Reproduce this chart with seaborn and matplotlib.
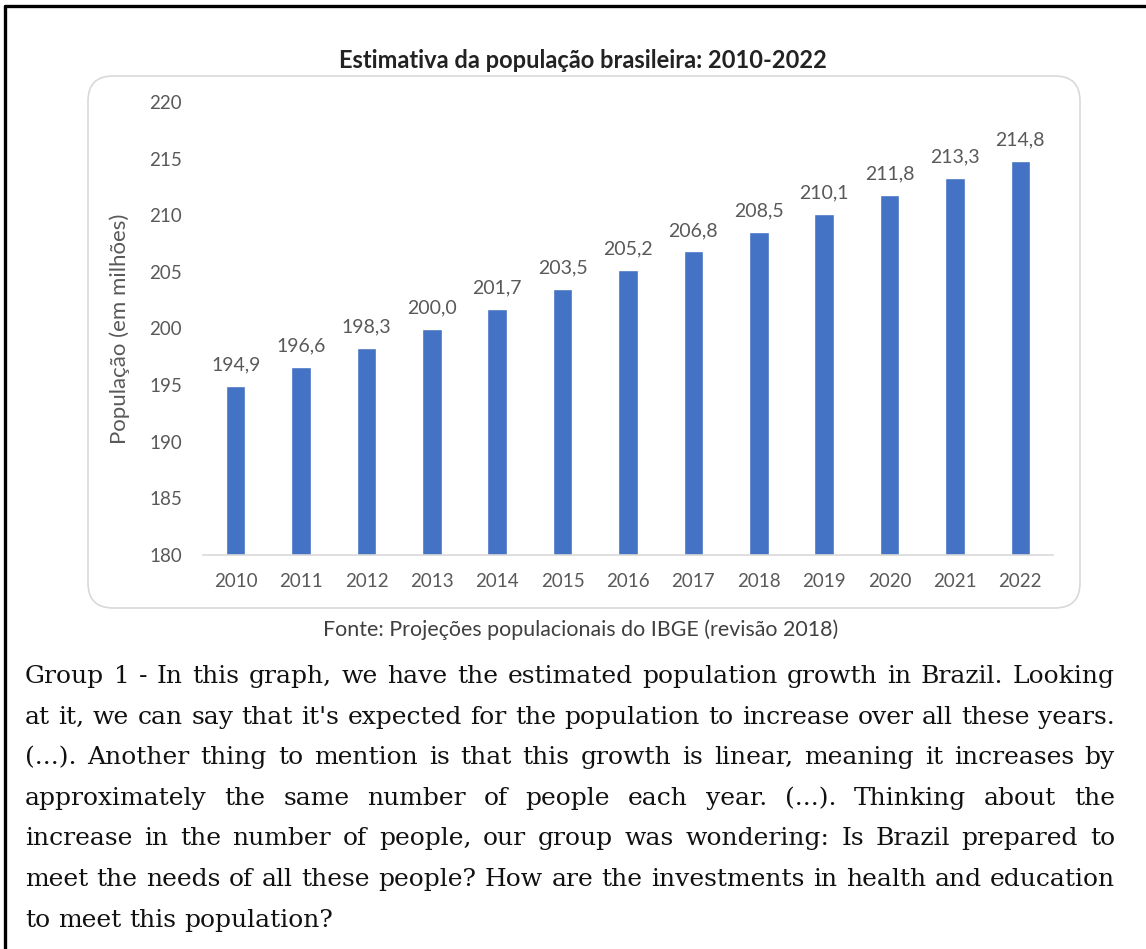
import matplotlib
matplotlib.use("Agg")
import matplotlib.pyplot as plt
import seaborn as sns
from matplotlib.patches import FancyBboxPatch
from matplotlib.lines import Line2D

# ------------------------------------------------------------------------------
# 1) DATA
# ------------------------------------------------------------------------------
years = ['2010', '2011', '2012', '2013', '2014', '2015', '2016',
         '2017', '2018', '2019', '2020', '2021', '2022']
population = [194.9, 196.6, 198.3, 200.0, 201.7, 203.5, 205.2,
              206.8, 208.5, 210.1, 211.8, 213.3, 214.8]
y_ticks = [180, 185, 190, 195, 200, 205, 210, 215, 220]

title = 'Estimativa da população brasileira: 2010-2022'
y_label = 'População (em milhões)'
source = 'Fonte: Projeções populacionais do IBGE (revisão 2018)'
paragraph_lines = [
    "Group 1 - In this graph, we have the estimated population growth in Brazil. Looking",
    "at it, we can say that it's expected for the population to increase over all these years.",
    "(...). Another thing to mention is that this growth is linear, meaning it increases by",
    "approximately the same number of people each year. (...). Thinking about the",
    "increase in the number of people, our group was wondering: Is Brazil prepared to",
    "meet the needs of all these people? How are the investments in health and education",
    "to meet this population?",
]

# ------------------------------------------------------------------------------
# 2) STYLE
# ------------------------------------------------------------------------------
sns.set_theme(style='white')
plt.rcParams['font.family'] = ['Lato', 'DejaVu Sans']

W, H = 1146, 949
fig = plt.figure(figsize=(W / 100, H / 100), dpi=100)
fig.patch.set_facecolor('white')
inch = fig.dpi_scale_trans


def px_box(left, top, right, bottom):
    return [left / W, 1 - bottom / H, (right - left) / W, (bottom - top) / H]


# black frame (top and left edges)
fig.add_artist(Line2D([5 / 100, W / 100], [(H - 6) / 100, (H - 6) / 100],
                      transform=inch, color='black', lw=2.4))
fig.add_artist(Line2D([5 / 100, 5 / 100], [0, (H - 6) / 100],
                      transform=inch, color='black', lw=2.4))

# rounded chart box
box = FancyBboxPatch((88 / 100, (H - 608) / 100), (1080 - 88) / 100, (608 - 76) / 100,
                     boxstyle='round,pad=0,rounding_size=0.25', transform=inch,
                     facecolor='white', edgecolor='#d9d9d9', lw=1.2, zorder=0)
fig.add_artist(box)

# ------------------------------------------------------------------------------
# 3) BAR CHART
# ------------------------------------------------------------------------------
ax = fig.add_axes(px_box(203, 102, 1053, 555))
ax.set_facecolor('none')
sns.barplot(x=years, y=population, color='#4472C4', width=0.3, saturation=1, ax=ax)
ax.set_ylim(180, 220)
ax.set_xlim(-0.5, len(years) - 0.5)
ax.set_yticks(y_ticks)
ax.tick_params(axis='both', length=0, labelsize=13.5, labelcolor='#595959')
ax.tick_params(axis='y', pad=15)
ax.tick_params(axis='x', pad=13)
for side in ['top', 'right', 'left']:
    ax.spines[side].set_visible(False)
ax.spines['bottom'].set_color('#d9d9d9')
ax.spines['bottom'].set_linewidth(1.2)
ax.set_ylabel(y_label, fontsize=16, color='#595959')
ax.yaxis.set_label_coords(-0.086, 0.5)

for i, v in enumerate(population):
    ax.annotate(f'{v:.1f}'.replace('.', ','), (i, v), xytext=(0, 9),
                textcoords='offset points', ha='center', va='bottom',
                fontsize=14, color='#595959')

fig.text(583 / W, 1 - 60 / H, title, ha='center', va='center',
         fontsize=17, fontweight='bold', color='#222222')
fig.text(581 / W, 1 - 630 / H, source, ha='center', va='center',
         fontsize=15.4, color='#404040')

# ------------------------------------------------------------------------------
# 4) JUSTIFIED PARAGRAPH
# ------------------------------------------------------------------------------
renderer = fig.canvas.get_renderer()
serif = ['DejaVu Serif']
left_px, right_px = 25, 1115
text_w = right_px - left_px


def word_width(word, size):
    t = fig.text(0, 0, word, fontsize=size, family=serif)
    w = t.get_window_extent(renderer).width
    t.remove()
    return w


# choose font size so that the longest line fits naturally
probe = 10
widest = max(word_width(line, probe) for line in paragraph_lines)
font_size = probe * (text_w - 6) / widest

baseline0, line_step = 683, 40.6
for k, line in enumerate(paragraph_lines):
    words = line.split(' ')
    widths = [word_width(w, font_size) for w in words]
    y = 1 - (baseline0 + k * line_step) / H
    if k == len(paragraph_lines) - 1:
        gap = word_width('a b', font_size) - word_width('ab', font_size)
    else:
        gap = (text_w - sum(widths)) / (len(words) - 1)
    x = left_px
    for w, ww in zip(words, widths):
        fig.text(x / W, y, w, fontsize=font_size, family=serif,
                 color='#111111', ha='left', va='baseline')
        x += ww + gap

fig.savefig('out.png', dpi=100, facecolor='white')
